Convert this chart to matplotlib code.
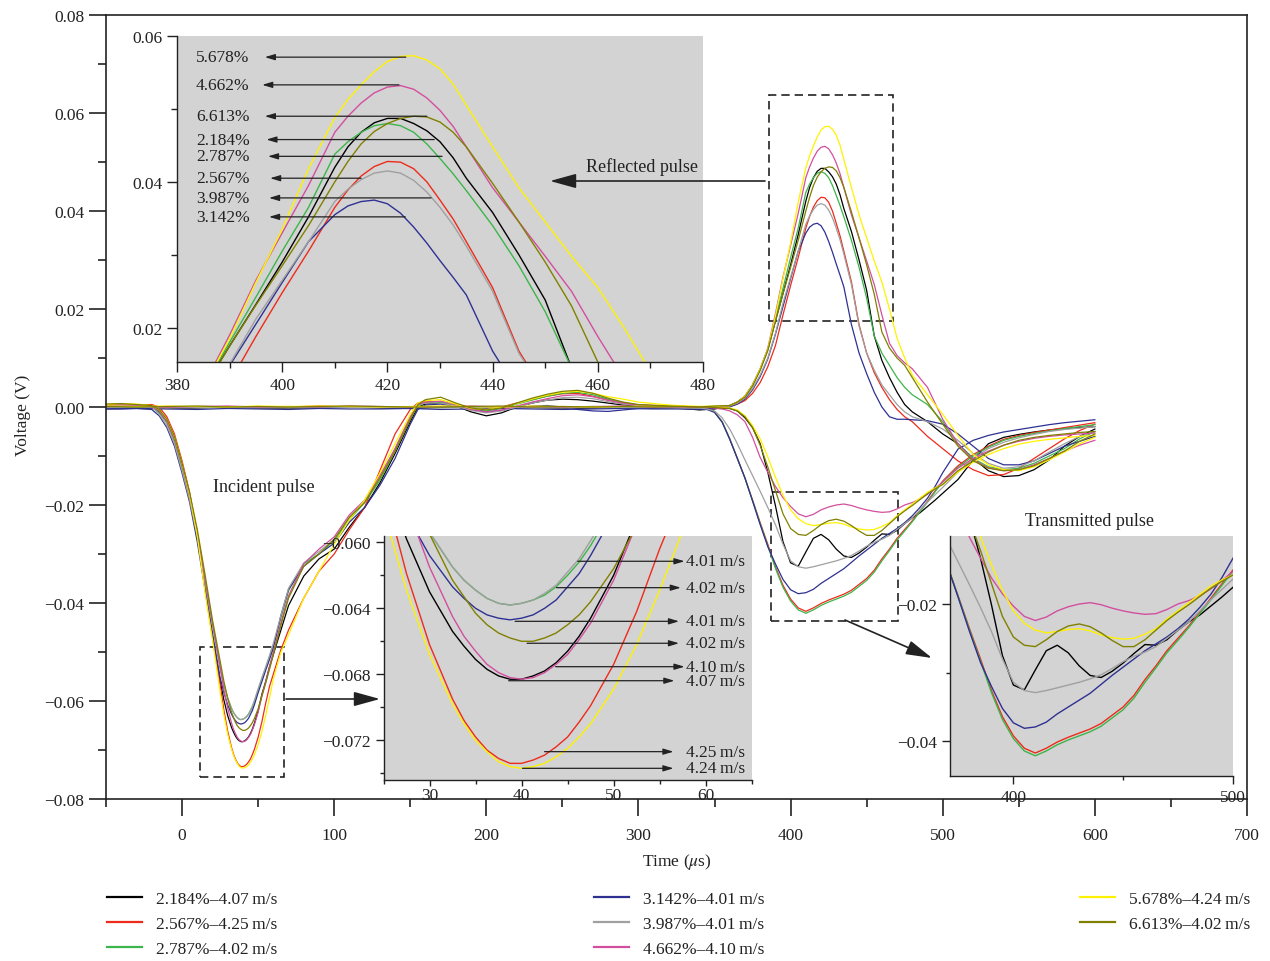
import matplotlib
matplotlib.use("Agg")
import matplotlib.pyplot as plt
from matplotlib.ticker import MultipleLocator, FuncFormatter
from matplotlib.patches import Rectangle, FancyArrowPatch
from matplotlib.lines import Line2D

plt.rcParams["font.family"] = ["Liberation Serif", "DejaVu Serif"]
plt.rcParams["mathtext.fontset"] = "stix"

# ---------------- data ----------------
STRAINS = ["2.184%", "2.567%", "2.787%", "3.142%", "3.987%", "4.662%", "5.678%", "6.613%"]
SPEEDS = ["4.07", "4.25", "4.02", "4.01", "4.01", "4.10", "4.24", "4.02"]
COLORS = ["#000000", "#ee2a1b", "#3cb54a", "#2e3192", "#a0a0a0", "#d24f9f", "#fff200", "#808000"]

# incident-bar signal, incident part (time in us)
T_INC = [-50, -40, -30, -20, -15, -10, -5, 0, 5, 10, 15, 20, 25, 27.5,
         30, 32.5, 33.75, 35, 36.25, 37.5, 38.75, 40, 41.25, 42.5, 43.75, 45, 46.25, 47.5,
         50, 52.5, 55, 57.5, 60, 65, 70, 80, 90, 100, 110, 120, 130, 140, 150, 155, 160, 170,
         180, 190, 200, 210, 220, 230, 240, 250, 260, 270, 280, 290, 300, 320, 340]

INC_BLACK = [0.0004, 0.0005, 0.0003, 0.0002, -0.0010, -0.0030, -0.0068, -0.0120, -0.0185, -0.0265, -0.0365, -0.0465, -0.0559, -0.0598,
             -0.0630, -0.0654, -0.0663, -0.0671, -0.0677, -0.0681, -0.0683, -0.0683, -0.0681, -0.0678, -0.0673, -0.0666, -0.0657, -0.0646,
             -0.0620, -0.0586, -0.0560, -0.0530, -0.0505, -0.0455, -0.0405, -0.0345, -0.0310, -0.0290, -0.0245, -0.0205, -0.0155, -0.0095, -0.0030, 0.0000, 0.0006, 0.0008,
             0.0002, -0.0010, -0.0018, -0.0012, 0.0000, 0.0008, 0.0014, 0.0016, 0.0015, 0.0012, 0.0008, 0.0004, 0.0002, 0.0000, -0.0006]
INC_RED = [0.0005, 0.0006, 0.0004, 0.0005, 0.0000, -0.0020, -0.0055, -0.0110, -0.0175, -0.0260, -0.0370, -0.0470, -0.0566, -0.0619,
           -0.0662, -0.0695, -0.0708, -0.0718, -0.0726, -0.0731, -0.0734, -0.0734, -0.0732, -0.0729, -0.0724, -0.0718, -0.0709, -0.0699,
           -0.0674, -0.0642, -0.0604, -0.0570, -0.0545, -0.0495, -0.0455, -0.0390, -0.0335, -0.0300, -0.0250, -0.0205, -0.0130, -0.0055, -0.0005, 0.0008, 0.0012, 0.0010,
           0.0003, -0.0003, -0.0005, 0.0000, 0.0008, 0.0015, 0.0022, 0.0027, 0.0028, 0.0022, 0.0014, 0.0008, 0.0004, 0.0002, 0.0000]
INC_GREEN = [0.0003, 0.0004, 0.0002, 0.0002, -0.0012, -0.0032, -0.0070, -0.0125, -0.0185, -0.0260, -0.0355, -0.0445, -0.0532, -0.0566,
             -0.0594, -0.0615, -0.0623, -0.0629, -0.0634, -0.0637, -0.0638, -0.0637, -0.0635, -0.0632, -0.0627, -0.0620, -0.0612, -0.0602,
             -0.0578, -0.0555, -0.0532, -0.0510, -0.0487, -0.0430, -0.0375, -0.0320, -0.0300, -0.0272, -0.0230, -0.0195, -0.0150, -0.0090, -0.0025, 0.0003, 0.0009, 0.0010,
             0.0003, -0.0005, -0.0008, -0.0003, 0.0006, 0.0014, 0.0022, 0.0028, 0.0030, 0.0025, 0.0016, 0.0009, 0.0004, 0.0001, -0.0002]
INC_BLUE = [-0.0004, -0.0004, -0.0003, -0.0005, -0.0018, -0.0042, -0.0080, -0.0135, -0.0195, -0.0275, -0.0370, -0.0465, -0.0552, -0.0583,
            -0.0608, -0.0627, -0.0634, -0.0640, -0.0644, -0.0646, -0.0647, -0.0646, -0.0644, -0.0640, -0.0635, -0.0627, -0.0619, -0.0608,
            -0.0583, -0.0560, -0.0537, -0.0515, -0.0492, -0.0425, -0.0372, -0.0325, -0.0300, -0.0278, -0.0235, -0.0205, -0.0160, -0.0105, -0.0035, -0.0005, 0.0004, 0.0006,
            0.0001, -0.0006, -0.0010, -0.0007, -0.0002, 0.0002, 0.0003, 0.0000, -0.0005, -0.0008, -0.0009, -0.0006, -0.0003, -0.0002, -0.0005]
INC_GRAY = [0.0002, 0.0003, 0.0002, 0.0001, -0.0015, -0.0038, -0.0075, -0.0130, -0.0190, -0.0265, -0.0355, -0.0445, -0.0532, -0.0566,
            -0.0594, -0.0615, -0.0623, -0.0629, -0.0634, -0.0637, -0.0638, -0.0637, -0.0635, -0.0631, -0.0626, -0.0618, -0.0610, -0.0599,
            -0.0575, -0.0552, -0.0530, -0.0507, -0.0482, -0.0425, -0.0370, -0.0318, -0.0295, -0.0270, -0.0225, -0.0192, -0.0145, -0.0085, -0.0020, 0.0005, 0.0008, 0.0008,
            0.0002, -0.0007, -0.0012, -0.0008, 0.0000, 0.0008, 0.0014, 0.0019, 0.0020, 0.0017, 0.0011, 0.0006, 0.0003, 0.0000, -0.0002]
INC_PINK = [0.0003, 0.0005, 0.0004, 0.0002, -0.0008, -0.0030, -0.0065, -0.0118, -0.0180, -0.0255, -0.0350, -0.0440, -0.0530, -0.0577,
            -0.0615, -0.0645, -0.0657, -0.0666, -0.0674, -0.0679, -0.0682, -0.0683, -0.0682, -0.0679, -0.0674, -0.0668, -0.0659, -0.0649,
            -0.0623, -0.0589, -0.0560, -0.0530, -0.0500, -0.0440, -0.0385, -0.0320, -0.0290, -0.0265, -0.0220, -0.0190, -0.0140, -0.0085, -0.0020, 0.0005, 0.0010, 0.0012,
            0.0005, -0.0005, -0.0010, -0.0006, 0.0002, 0.0010, 0.0017, 0.0023, 0.0025, 0.0021, 0.0014, 0.0008, 0.0004, 0.0001, -0.0001]
INC_YELLOW = [0.0005, 0.0007, 0.0006, 0.0003, -0.0005, -0.0025, -0.0060, -0.0115, -0.0180, -0.0262, -0.0377, -0.0475, -0.0581, -0.0629,
              -0.0668, -0.0698, -0.0710, -0.0720, -0.0727, -0.0733, -0.0736, -0.0737, -0.0736, -0.0734, -0.0730, -0.0725, -0.0718, -0.0710,
              -0.0689, -0.0662, -0.0629, -0.0593, -0.0555, -0.0500, -0.0465, -0.0390, -0.0335, -0.0280, -0.0230, -0.0190, -0.0135, -0.0075, -0.0015, 0.0008, 0.0013, 0.0015,
              0.0006, -0.0003, -0.0005, -0.0001, 0.0007, 0.0016, 0.0024, 0.0030, 0.0032, 0.0028, 0.0021, 0.0016, 0.0010, 0.0004, 0.0001]
INC_OLIVE = [0.0006, 0.0007, 0.0005, 0.0003, -0.0005, -0.0025, -0.0060, -0.0115, -0.0175, -0.0250, -0.0340, -0.0435, -0.0518, -0.0560,
             -0.0595, -0.0623, -0.0633, -0.0643, -0.0650, -0.0655, -0.0658, -0.0660, -0.0660, -0.0658, -0.0655, -0.0650, -0.0644, -0.0636,
             -0.0616, -0.0590, -0.0563, -0.0535, -0.0505, -0.0445, -0.0390, -0.0325, -0.0300, -0.0270, -0.0225, -0.0195, -0.0145, -0.0090, -0.0025, 0.0005, 0.0015, 0.0020,
             0.0008, -0.0002, -0.0006, -0.0002, 0.0008, 0.0018, 0.0026, 0.0032, 0.0034, 0.0028, 0.0018, 0.0010, 0.0005, 0.0002, 0.0000]

# incident-bar signal, reflected part
T_REF = [350, 360, 365, 370, 375, 380, 385, 390, 395, 400, 405, 410, 412.5, 415, 417.5, 420, 422.5, 425, 427.5, 430,
         432.5, 435, 440, 445, 450, 455, 460, 465, 470, 475, 480, 490, 500, 510, 520, 530, 540, 550, 560, 570,
         580, 590, 600]

REF_BLACK = [-0.0004, 0.0003, 0.0010, 0.0022, 0.0045, 0.0077, 0.0117, 0.0175, 0.0232, 0.0290, 0.0352, 0.0420, 0.0448, 0.0468, 0.0481, 0.0487, 0.0487, 0.0480, 0.0470, 0.0455,
             0.0433, 0.0405, 0.0358, 0.0300, 0.0238, 0.0145, 0.0095, 0.0060, 0.0030, 0.0005, -0.0010, -0.0030, -0.0055, -0.0075, -0.0105, -0.0130, -0.0142, -0.0140, -0.0128, -0.0108,
             -0.0080, -0.0060, -0.0045]
REF_RED = [0.0000, 0.0002, 0.0006, 0.0013, 0.0028, 0.0050, 0.0082, 0.0125, 0.0188, 0.0248, 0.0305, 0.0365, 0.0389, 0.0408, 0.0421, 0.0428, 0.0427, 0.0418, 0.0400, 0.0375,
           0.0349, 0.0318, 0.0255, 0.0168, 0.0110, 0.0070, 0.0040, 0.0015, -0.0005, -0.0020, -0.0030, -0.0060, -0.0085, -0.0110, -0.0128, -0.0140, -0.0138, -0.0125, -0.0105, -0.0085,
           -0.0065, -0.0048, -0.0035]
REF_GREEN = [0.0000, 0.0003, 0.0010, 0.0022, 0.0045, 0.0077, 0.0117, 0.0180, 0.0242, 0.0305, 0.0365, 0.0438, 0.0455, 0.0468, 0.0477, 0.0480, 0.0477, 0.0468, 0.0452, 0.0432,
             0.0411, 0.0388, 0.0340, 0.0285, 0.0222, 0.0145, 0.0110, 0.0085, 0.0060, 0.0040, 0.0025, 0.0005, -0.0030, -0.0075, -0.0105, -0.0122, -0.0128, -0.0125, -0.0115, -0.0100,
             -0.0085, -0.0065, -0.0050]
REF_BLUE = [-0.0003, 0.0000, 0.0006, 0.0016, 0.0035, 0.0062, 0.0098, 0.0148, 0.0205, 0.0262, 0.0318, 0.0355, 0.0367, 0.0373, 0.0375, 0.0370, 0.0357, 0.0338, 0.0316, 0.0292,
            0.0269, 0.0245, 0.0168, 0.0110, 0.0068, 0.0030, 0.0000, -0.0020, -0.0025, -0.0025, -0.0026, -0.0028, -0.0035, -0.0055, -0.0080, -0.0105, -0.0118, -0.0118, -0.0110, -0.0095,
            -0.0080, -0.0070, -0.0060]
REF_GRAY = [0.0000, 0.0002, 0.0008, 0.0018, 0.0038, 0.0065, 0.0100, 0.0150, 0.0212, 0.0265, 0.0318, 0.0373, 0.0390, 0.0403, 0.0412, 0.0415, 0.0412, 0.0402, 0.0386, 0.0365,
            0.0341, 0.0312, 0.0250, 0.0165, 0.0110, 0.0075, 0.0045, 0.0025, 0.0005, -0.0010, -0.0020, -0.0030, -0.0045, -0.0068, -0.0095, -0.0115, -0.0125, -0.0122, -0.0110, -0.0092,
            -0.0075, -0.0060, -0.0050]
REF_PINK = [0.0000, 0.0003, 0.0010, 0.0022, 0.0045, 0.0078, 0.0120, 0.0190, 0.0265, 0.0330, 0.0395, 0.0468, 0.0490, 0.0508, 0.0522, 0.0530, 0.0532, 0.0527, 0.0515, 0.0498,
            0.0476, 0.0448, 0.0392, 0.0345, 0.0298, 0.0250, 0.0188, 0.0130, 0.0105, 0.0090, 0.0078, 0.0040, -0.0025, -0.0075, -0.0108, -0.0124, -0.0130, -0.0128, -0.0118, -0.0105,
            -0.0090, -0.0078, -0.0068]
REF_YELLOW = [0.0002, 0.0003, 0.0010, 0.0022, 0.0045, 0.0078, 0.0118, 0.0185, 0.0262, 0.0335, 0.0418, 0.0488, 0.0513, 0.0533, 0.0551, 0.0565, 0.0572, 0.0573, 0.0567, 0.0555,
              0.0534, 0.0505, 0.0448, 0.0392, 0.0345, 0.0298, 0.0255, 0.0200, 0.0140, 0.0100, 0.0065, 0.0025, -0.0015, -0.0058, -0.0097, -0.0118, -0.0128, -0.0130, -0.0122, -0.0108,
              -0.0092, -0.0075, -0.0062]
REF_OLIVE = [0.0002, 0.0003, 0.0010, 0.0020, 0.0043, 0.0075, 0.0115, 0.0175, 0.0231, 0.0285, 0.0340, 0.0400, 0.0428, 0.0452, 0.0469, 0.0480, 0.0487, 0.0490, 0.0489, 0.0482,
             0.0468, 0.0448, 0.0398, 0.0345, 0.0290, 0.0230, 0.0153, 0.0120, 0.0100, 0.0085, 0.0060, 0.0010, -0.0035, -0.0080, -0.0110, -0.0125, -0.0130, -0.0128, -0.0120, -0.0105,
             -0.0090, -0.0070, -0.0055]

# transmitted-bar signal
T_TRA = [-50, -30, -10, 10, 30, 50, 70, 90, 110, 130, 150, 170, 190, 210, 230, 250, 270, 290, 310, 330,
         340, 345, 350, 355, 360, 365, 370, 375, 380, 385, 390, 395, 400, 405, 410, 415, 420, 425, 430, 435,
         440, 445, 450, 455, 460, 465, 470, 475, 480, 485, 490, 495, 500, 510, 520, 530, 540, 550, 560, 570,
         580, 590, 600]

TRA_BLACK = [-0.0002, -0.0001, -0.0003, -0.0002, 0.0000, -0.0002, -0.0003, -0.0001, 0.0000, -0.0002, -0.0003, -0.0001, 0.0000, -0.0002, -0.0001, -0.0003, -0.0002, 0.0000, -0.0002, -0.0003,
             -0.0003, -0.0002, -0.0003, -0.0003, -0.0003, -0.0008, -0.0022, -0.0042, -0.0075, -0.0133, -0.0201, -0.0275, -0.0318, -0.0325, -0.0296, -0.0268, -0.0260, -0.0271, -0.0290, -0.0304,
             -0.0307, -0.0298, -0.0286, -0.0272, -0.0259, -0.0260, -0.0252, -0.0238, -0.0226, -0.0216, -0.0203, -0.0190, -0.0176, -0.0148, -0.0108, -0.0075, -0.0062, -0.0056, -0.0051, -0.0047,
             -0.0044, -0.0042, -0.0040]
TRA_RED = [0.0000, 0.0001, -0.0001, 0.0000, 0.0001, -0.0001, 0.0000, 0.0002, 0.0000, -0.0001, 0.0000, 0.0001, 0.0000, -0.0001, 0.0001, 0.0000, -0.0001, 0.0000, 0.0001, -0.0001,
           -0.0002, -0.0003, -0.0010, -0.0030, -0.0065, -0.0105, -0.0145, -0.0190, -0.0236, -0.0280, -0.0326, -0.0364, -0.0392, -0.0410, -0.0417, -0.0410, -0.0401, -0.0394, -0.0388, -0.0382,
           -0.0374, -0.0362, -0.0350, -0.0333, -0.0310, -0.0290, -0.0268, -0.0250, -0.0232, -0.0212, -0.0192, -0.0171, -0.0151, -0.0120, -0.0097, -0.0080, -0.0066, -0.0058, -0.0052, -0.0047,
           -0.0042, -0.0037, -0.0032]
TRA_GREEN = [0.0001, 0.0000, 0.0001, -0.0001, 0.0000, 0.0001, 0.0000, -0.0001, 0.0001, 0.0000, -0.0002, 0.0000, 0.0001, 0.0000, -0.0001, 0.0000, 0.0001, -0.0001, 0.0000, 0.0000,
             -0.0002, -0.0003, -0.0010, -0.0030, -0.0065, -0.0105, -0.0145, -0.0191, -0.0238, -0.0283, -0.0329, -0.0368, -0.0396, -0.0414, -0.0421, -0.0414, -0.0405, -0.0398, -0.0392, -0.0386,
             -0.0378, -0.0366, -0.0354, -0.0337, -0.0314, -0.0293, -0.0271, -0.0253, -0.0234, -0.0214, -0.0194, -0.0173, -0.0153, -0.0123, -0.0100, -0.0082, -0.0068, -0.0060, -0.0054, -0.0049,
             -0.0044, -0.0040, -0.0036]
TRA_BLUE = [-0.0004, -0.0003, -0.0004, -0.0005, -0.0003, -0.0004, -0.0005, -0.0003, -0.0004, -0.0004, -0.0003, -0.0005, -0.0004, -0.0003, -0.0004, -0.0005, -0.0004, -0.0003, -0.0004, -0.0004,
            -0.0004, -0.0005, -0.0011, -0.0031, -0.0066, -0.0105, -0.0145, -0.0192, -0.0240, -0.0285, -0.0320, -0.0352, -0.0373, -0.0381, -0.0379, -0.0372, -0.0360, -0.0350, -0.0340, -0.0330,
            -0.0317, -0.0304, -0.0292, -0.0280, -0.0268, -0.0258, -0.0248, -0.0236, -0.0222, -0.0205, -0.0186, -0.0162, -0.0134, -0.0086, -0.0068, -0.0058, -0.0051, -0.0046, -0.0041, -0.0036,
            -0.0032, -0.0029, -0.0026]
TRA_GRAY = [-0.0001, 0.0000, -0.0002, -0.0001, 0.0000, -0.0001, -0.0002, 0.0000, -0.0001, -0.0001, 0.0000, -0.0002, -0.0001, 0.0000, -0.0001, -0.0002, 0.0000, -0.0001, -0.0001, -0.0002,
            -0.0002, -0.0004, -0.0008, -0.0022, -0.0045, -0.0075, -0.0108, -0.0140, -0.0172, -0.0205, -0.0240, -0.0280, -0.0314, -0.0326, -0.0329, -0.0326, -0.0322, -0.0318, -0.0314, -0.0309,
            -0.0303, -0.0294, -0.0284, -0.0276, -0.0270, -0.0262, -0.0250, -0.0238, -0.0226, -0.0210, -0.0194, -0.0179, -0.0164, -0.0133, -0.0105, -0.0085, -0.0072, -0.0063, -0.0056, -0.0050,
            -0.0046, -0.0043, -0.0040]
TRA_PINK = [0.0001, 0.0002, 0.0000, 0.0001, 0.0002, 0.0000, 0.0001, 0.0000, 0.0002, 0.0001, 0.0000, 0.0001, 0.0002, 0.0000, 0.0001, 0.0000, 0.0001, 0.0002, 0.0000, 0.0001,
            0.0000, -0.0001, -0.0002, -0.0004, -0.0008, -0.0016, -0.0030, -0.0062, -0.0103, -0.0133, -0.0162, -0.0185, -0.0203, -0.0218, -0.0224, -0.0219, -0.0210, -0.0204, -0.0200, -0.0198,
            -0.0201, -0.0206, -0.0210, -0.0213, -0.0215, -0.0214, -0.0208, -0.0200, -0.0195, -0.0188, -0.0178, -0.0166, -0.0153, -0.0125, -0.0105, -0.0090, -0.0078, -0.0070, -0.0064, -0.0060,
            -0.0057, -0.0055, -0.0053]
TRA_YELLOW = [0.0002, 0.0001, 0.0002, 0.0001, 0.0000, 0.0002, 0.0001, 0.0002, 0.0001, 0.0000, 0.0001, 0.0002, 0.0001, 0.0000, 0.0002, 0.0001, 0.0000, 0.0001, 0.0002, 0.0001,
              0.0001, 0.0001, 0.0000, -0.0001, -0.0002, -0.0006, -0.0018, -0.0038, -0.0065, -0.0102, -0.0143, -0.0180, -0.0210, -0.0228, -0.0238, -0.0242, -0.0240, -0.0237, -0.0236, -0.0239,
              -0.0245, -0.0249, -0.0251, -0.0250, -0.0244, -0.0236, -0.0222, -0.0210, -0.0198, -0.0186, -0.0174, -0.0165, -0.0158, -0.0133, -0.0113, -0.0097, -0.0085, -0.0076, -0.0070, -0.0066,
              -0.0063, -0.0060, -0.0058]
TRA_OLIVE = [0.0001, 0.0000, 0.0001, 0.0002, 0.0000, 0.0001, 0.0000, 0.0001, 0.0002, 0.0001, 0.0000, 0.0000, 0.0001, 0.0002, 0.0000, 0.0001, 0.0000, 0.0001, 0.0000, 0.0001,
             0.0000, 0.0000, -0.0001, -0.0002, -0.0003, -0.0008, -0.0020, -0.0042, -0.0078, -0.0122, -0.0170, -0.0218, -0.0248, -0.0260, -0.0262, -0.0252, -0.0240, -0.0232, -0.0229, -0.0233,
             -0.0242, -0.0253, -0.0262, -0.0262, -0.0252, -0.0238, -0.0224, -0.0212, -0.0201, -0.0189, -0.0177, -0.0167, -0.0158, -0.0130, -0.0110, -0.0092, -0.0078, -0.0068, -0.0062, -0.0058,
             -0.0055, -0.0052, -0.0050]

V_INC = [INC_BLACK, INC_RED, INC_GREEN, INC_BLUE, INC_GRAY, INC_PINK, INC_YELLOW, INC_OLIVE]
V_REF = [REF_BLACK, REF_RED, REF_GREEN, REF_BLUE, REF_GRAY, REF_PINK, REF_YELLOW, REF_OLIVE]
V_TRA = [TRA_BLACK, TRA_RED, TRA_GREEN, TRA_BLUE, TRA_GRAY, TRA_PINK, TRA_YELLOW, TRA_OLIVE]
LABELS = [f"{s}\u2013{v}\u2009m/s" for s, v in zip(STRAINS, SPEEDS)]

# ---------------- layout helpers ----------------
W, H = 1270, 962
TXT = "#222222"
FS = 12.5


def frect(l, t, r, b):
    return [l / W, 1 - b / H, (r - l) / W, (b - t) / H]


def fpt(x, y):
    return (x / W, 1 - y / H)


def fmt(dec):
    def f(v, pos):
        s = f"{v:.{dec}f}"
        if abs(float(s)) < 1e-12:
            s = f"{0:.{dec}f}"
        return s.replace("-", "\u2212")
    return FuncFormatter(f)


def style_axis(a, major_len, minor_len, lw=1.0):
    a.tick_params(which="both", direction="out", top=False, right=False,
                  labelsize=FS, colors=TXT, width=lw)
    a.tick_params(which="major", length=major_len)
    a.tick_params(which="minor", length=minor_len)
    for s in a.spines.values():
        s.set_color(TXT)
        s.set_linewidth(lw)


fig = plt.figure(figsize=(W / 100, H / 100), dpi=100)

# ---------------- main axes ----------------
ax = fig.add_axes(frect(106, 16, 1247, 800))
for i in range(8):
    ax.plot(T_INC + T_REF, V_INC[i] + V_REF[i], color=COLORS[i], lw=0.9)
    ax.plot(T_TRA, V_TRA[i], color=COLORS[i], lw=0.9)
ax.set_xlim(-50, 700)
ax.set_ylim(-0.08, 0.08)
ax.xaxis.set_major_locator(MultipleLocator(100))
ax.xaxis.set_minor_locator(MultipleLocator(50))
ax.yaxis.set_major_locator(MultipleLocator(0.02))
ax.yaxis.set_minor_locator(MultipleLocator(0.01))
ax.yaxis.set_major_formatter(fmt(2))
ax.xaxis.set_major_formatter(fmt(0))
style_axis(ax, 12, 6, 1.2)
ax.tick_params(axis="x", which="major", pad=8)
ax.set_ylabel("Voltage (V)", fontsize=FS, color=TXT)
ax.yaxis.set_label_coords(-0.066, 0.49)
ax.set_xlabel("Time ($\\mu$s)", fontsize=FS, color=TXT)
ax.xaxis.set_label_coords(0.5, -0.066)

box_kw = dict(fill=False, ls=(0, (5, 3)), lw=1.2, ec=TXT)
ax.add_patch(Rectangle((385.5, 0.0176), 81.6, 0.0461, **box_kw))
ax.add_patch(Rectangle((11.8, -0.0755), 55.3, 0.0265, **box_kw))
ax.add_patch(Rectangle((386.8, -0.0437), 83.6, 0.0264, **box_kw))

small_arrow = dict(arrowstyle="-|>,head_length=0.6,head_width=0.18", color=TXT,
                   lw=0.9, mutation_scale=10, shrinkA=0, shrinkB=0)

# ---------------- inset 1: reflected pulse ----------------
ax1 = fig.add_axes(frect(177, 37, 703, 363), facecolor="#d3d3d3")
for i in range(8):
    ax1.plot(T_REF, V_REF[i], color=COLORS[i], lw=1.0)
ax1.set_xlim(380, 480)
ax1.set_ylim(0.0153, 0.06)
ax1.xaxis.set_major_locator(MultipleLocator(20))
ax1.xaxis.set_minor_locator(MultipleLocator(10))
ax1.yaxis.set_major_locator(MultipleLocator(0.02))
ax1.yaxis.set_minor_locator(MultipleLocator(0.01))
ax1.yaxis.set_major_formatter(fmt(2))
ax1.xaxis.set_major_formatter(fmt(0))
ax1.spines["top"].set_visible(False)
ax1.spines["right"].set_visible(False)
style_axis(ax1, 7, 4)
# (series index, y, arrow tail x, arrow head x)
REF_NOTES = [(6, 0.0571, 423.5, 396.7), (5, 0.0533, 422.2, 396.2), (7, 0.0490, 427.5, 396.7),
             (0, 0.0458, 428.9, 397.0), (2, 0.0435, 430.4, 397.3), (1, 0.0405, 415.0, 397.7),
             (4, 0.0378, 428.3, 397.5), (3, 0.0352, 423.4, 397.5)]
for idx, y, x0, x1 in REF_NOTES:
    ax1.annotate("", xy=(x1, y), xytext=(x0, y), arrowprops=small_arrow)
    ax1.text(383.6, y, STRAINS[idx], fontsize=FS, color=TXT, va="center", ha="left")

# ---------------- inset 2: incident minimum ----------------
ax2 = fig.add_axes(frect(383.5, 536.7, 751.7, 780.7), facecolor="#d3d3d3")
for i in range(8):
    ax2.plot(T_INC, V_INC[i], color=COLORS[i], lw=1.0)
ax2.set_xlim(25, 65)
ax2.set_ylim(-0.07439, -0.0596)
ax2.xaxis.set_major_locator(MultipleLocator(10))
ax2.xaxis.set_minor_locator(MultipleLocator(5))
ax2.yaxis.set_major_locator(MultipleLocator(0.004))
ax2.yaxis.set_minor_locator(MultipleLocator(0.002))
ax2.yaxis.set_major_formatter(fmt(3))
ax2.xaxis.set_major_formatter(fmt(0))
ax2.spines["top"].set_visible(False)
ax2.spines["right"].set_visible(False)
style_axis(ax2, 6, 3)
ax2.tick_params(axis="x", which="major", length=4, pad=1.5)
ax2.tick_params(axis="x", which="minor", length=3)
INC_NOTES = [(4, -0.06115, 46.1, 57.7), (2, -0.06275, 43.8, 57.3), (3, -0.06479, 39.3, 57.1),
             (7, -0.06612, 40.6, 57.1), (5, -0.06754, 43.7, 57.7), (0, -0.06839, 38.6, 56.6),
             (1, -0.07269, 42.5, 56.5), (6, -0.07370, 40.1, 56.5)]
for idx, y, x0, x1 in INC_NOTES:
    ax2.annotate("", xy=(x1, y), xytext=(x0, y), arrowprops=small_arrow)
    ax2.text(57.9, y, f"{SPEEDS[idx]}\u2009m/s", fontsize=FS, color=TXT, va="center", ha="left")

# ---------------- inset 3: transmitted pulse ----------------
ax3 = fig.add_axes(frect(950, 536.7, 1232.7, 776.7), facecolor="#d3d3d3")
for i in range(8):
    ax3.plot(T_TRA, V_TRA[i], color=COLORS[i], lw=1.0)
ax3.set_xlim(371.1, 500)
ax3.set_ylim(-0.045, -0.01005)
ax3.xaxis.set_major_locator(MultipleLocator(100))
ax3.xaxis.set_minor_locator(MultipleLocator(50))
ax3.yaxis.set_major_locator(MultipleLocator(0.02))
ax3.yaxis.set_minor_locator(MultipleLocator(0.01))
ax3.yaxis.set_major_formatter(fmt(2))
ax3.xaxis.set_major_formatter(fmt(0))
ax3.spines["top"].set_visible(False)
ax3.spines["right"].set_visible(False)
style_axis(ax3, 6, 3)

# ---------------- figure-level annotations ----------------
fig.text(*fpt(213, 488), "Incident pulse", fontsize=13, color=TXT, va="center", ha="left")
fig.text(*fpt(586, 167), "Reflected pulse", fontsize=13, color=TXT, va="center", ha="left")
fig.text(*fpt(1025, 521), "Transmitted pulse", fontsize=13, color=TXT, va="center", ha="left")


def big_arrow(p0, p1):
    fig.add_artist(FancyArrowPatch(fpt(*p0), fpt(*p1), transform=fig.transFigure,
                                   arrowstyle="-|>,head_length=0.8,head_width=0.22",
                                   mutation_scale=20, color=TXT, lw=1.2,
                                   shrinkA=0, shrinkB=0))


big_arrow((286, 700), (380, 700))
big_arrow((765, 182), (550, 182))
big_arrow((845, 621), (932, 659))

# ---------------- legend (three columns) ----------------
handles = [Line2D([], [], color=c, lw=1.6) for c in COLORS]
for cols, x in [((0, 1, 2), 107), ((3, 4, 5), 594), ((6, 7), 1080)]:
    fig.legend([handles[k] for k in cols], [LABELS[k] for k in cols],
               loc="upper left", bbox_to_anchor=fpt(x, 892), frameon=False,
               fontsize=FS, handlelength=2.0, handletextpad=0.8, labelspacing=0.5,
               borderpad=0, borderaxespad=0, labelcolor=TXT)

fig.savefig("out.png", dpi=100)
